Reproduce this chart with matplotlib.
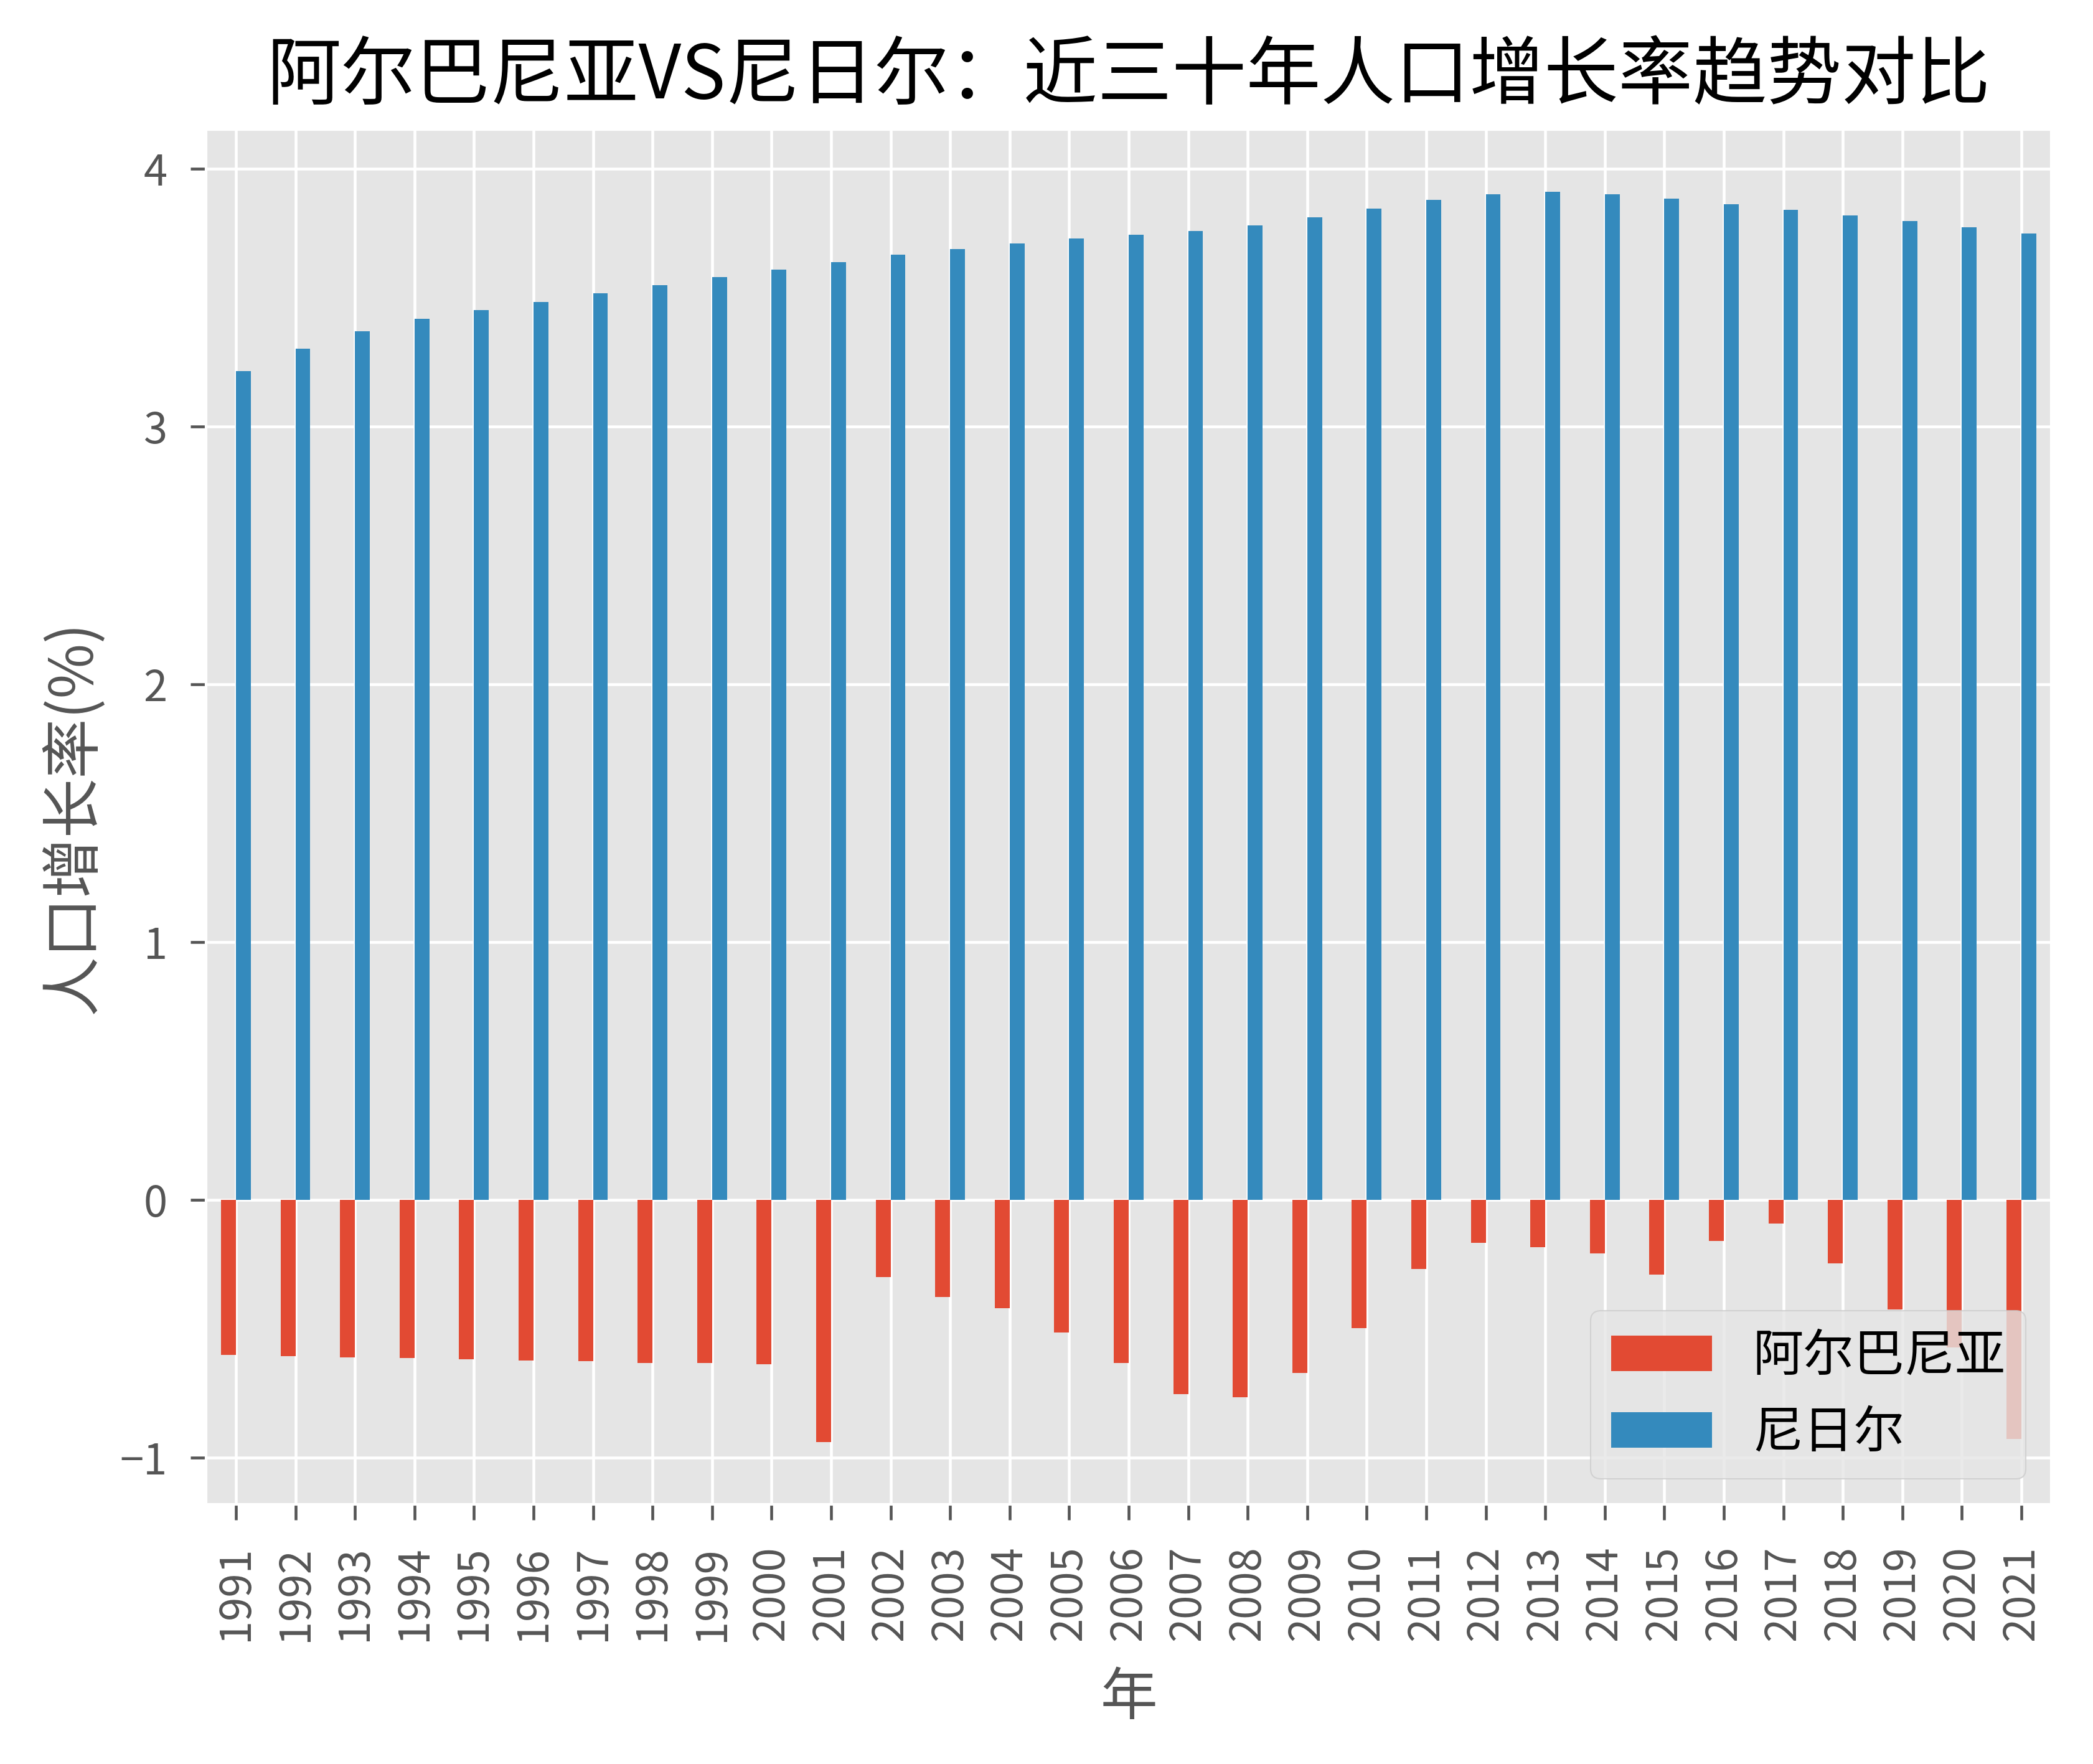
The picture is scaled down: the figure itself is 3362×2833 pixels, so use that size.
import numpy as np
import pandas as pd
import matplotlib
matplotlib.use('Agg')
import matplotlib.pyplot as plt

# data (population growth, %)
years = list(range(1991, 2022))
albania = [-0.602, -0.605, -0.610, -0.613, -0.617, -0.622, -0.625, -0.631, -0.633, -0.637,
           -0.938, -0.300, -0.375, -0.419, -0.513, -0.631, -0.754, -0.766, -0.672, -0.497,
           -0.268, -0.165, -0.182, -0.207, -0.290, -0.158, -0.091, -0.246, -0.425, -0.573,
           -0.927]
niger = [3.214, 3.301, 3.370, 3.419, 3.452, 3.484, 3.517, 3.549, 3.581, 3.608,
         3.638, 3.667, 3.689, 3.710, 3.729, 3.743, 3.758, 3.780, 3.811, 3.845,
         3.879, 3.900, 3.910, 3.900, 3.883, 3.862, 3.840, 3.818, 3.797, 3.772,
         3.749]

series_names = ['阿尔巴尼亚', '尼日尔']
title = '阿尔巴尼亚VS尼日尔：近三十年人口增长率趋势对比'
xlabel = '年'
ylabel = '人口增长率(%)'

plt.style.use('ggplot')
plt.rcParams['font.family'] = ['Noto Sans CJK SC', 'DejaVu Sans']
plt.rcParams['axes.unicode_minus'] = True

df = pd.DataFrame({series_names[0]: albania, series_names[1]: niger}, index=years)

fig = plt.figure(figsize=(3362 / 300, 2833 / 300), dpi=300)
ax = fig.add_axes([0.0985, 0.1472, 0.8815, 0.7794])
df.plot(kind='bar', ax=ax)

ax.set_title(title, fontsize=28.7, color='black', pad=12)
ax.set_xlabel(xlabel, fontsize=22, color='#555555', labelpad=11)
ax.set_ylabel(ylabel, fontsize=23, color='#555555', labelpad=6)
ax.tick_params(axis='both', labelsize=16.5, length=6, width=1.1, colors='#555555')
ax.tick_params(axis='x', labelrotation=90, pad=10)
ax.tick_params(axis='y', pad=9)
ax.grid(True, color='white', linewidth=1.1)

ax.legend(loc='lower right', fontsize=19.5, framealpha=0.8)

fig.savefig('out.png', dpi=300)
plt.close(fig)
